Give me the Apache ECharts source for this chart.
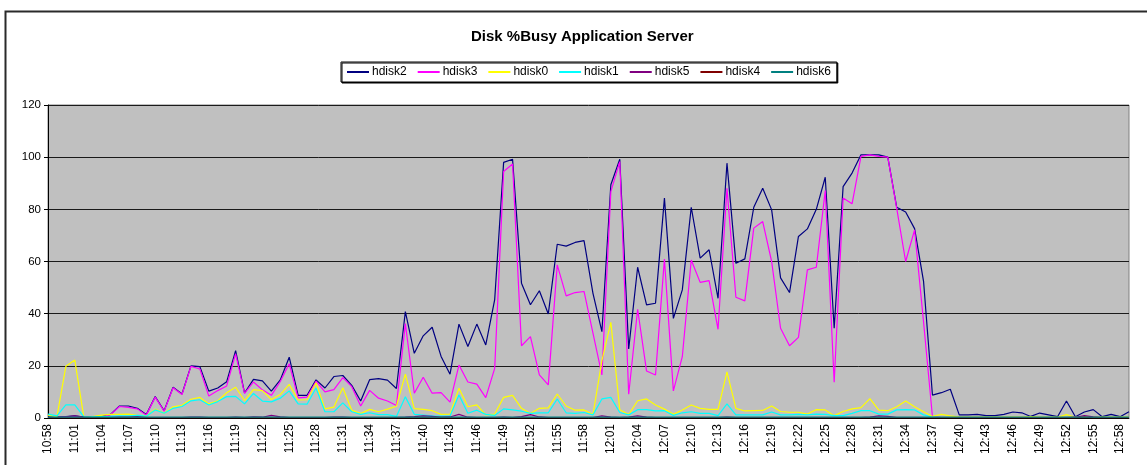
<!DOCTYPE html>
<html>
<head>
<meta charset="utf-8">
<script src="https://cdn.jsdelivr.net/npm/echarts@6/dist/echarts.min.js"></script>
<style>
  html, body { margin: 0; padding: 0; background: #fff; }
  #chart { width: 1147px; height: 465px; }
</style>
</head>
<body>
<div id="chart"></div>
<script>
// Disk %Busy, one sample per minute, 10:58 .. 12:59
const times = [
  '10:58','10:59','11:00','11:01','11:02','11:03','11:04','11:05','11:06','11:07',
  '11:08','11:09','11:10','11:11','11:12','11:13','11:14','11:15','11:16','11:17',
  '11:18','11:19','11:20','11:21','11:22','11:23','11:24','11:25','11:26','11:27',
  '11:28','11:29','11:30','11:31','11:32','11:33','11:34','11:35','11:36','11:37',
  '11:38','11:39','11:40','11:41','11:42','11:43','11:44','11:45','11:46','11:47',
  '11:48','11:49','11:50','11:51','11:52','11:53','11:54','11:55','11:56','11:57',
  '11:58','11:59','12:00','12:01','12:02','12:03','12:04','12:05','12:06','12:07',
  '12:08','12:09','12:10','12:11','12:12','12:13','12:14','12:15','12:16','12:17',
  '12:18','12:19','12:20','12:21','12:22','12:23','12:24','12:25','12:26','12:27',
  '12:28','12:29','12:30','12:31','12:32','12:33','12:34','12:35','12:36','12:37',
  '12:38','12:39','12:40','12:41','12:42','12:43','12:44','12:45','12:46','12:47',
  '12:48','12:49','12:50','12:51','12:52','12:53','12:54','12:55','12:56','12:57',
  '12:58','12:59'
]

const hdisk2 = [
  0.3, 0.3, 0.5, 0.8, 0.3, 0.3, 0.5, 1.4, 4.6, 4.6,
  3.7, 1.3, 8.2, 2.8, 11.8, 9.2, 20, 19.7, 10.3, 11.5,
  13.9, 25.8, 9.6, 14.8, 14.2, 10.3, 14.6, 23.3, 8.7, 8.7,
  14.6, 11.5, 15.9, 16.3, 12.5, 6.5, 14.7, 15.1, 14.5, 11.3,
  40.8, 24.8, 31.5, 34.8, 23.6, 16.8, 36, 27.4, 36, 28,
  45.4, 98, 99.2, 51.7, 43.4, 48.8, 39.9, 66.6, 65.9, 67.3,
  68, 47.8, 33.1, 89.4, 99.2, 26.5, 57.8, 43.4, 44, 84.3,
  38.2, 49.1, 80.8, 61.3, 64.5, 45.9, 97.7, 59.3, 61, 80.8,
  88.1, 79.8, 53.7, 48.1, 69.6, 72.5, 80, 92.3, 34.4, 88.7,
  93.9, 100.9, 100.9, 100.9, 100, 80.8, 79, 72.6, 52.5, 8.8,
  9.7, 11, 1.2, 1.2, 1.4, 0.9, 0.9, 1.4, 2.3, 2,
  0.6, 1.9, 1.2, 0.5, 6.5, 0.5, 2.3, 3.2, 0.5, 1.4,
  0.5, 2.4
]
const hdisk3 = [
  0.2, 0.2, 0.3, 0.5, 0.2, 0.2, 0.4, 1.3, 4.4, 4.1,
  3.5, 1.1, 8, 2.6, 11.6, 9, 19.8, 18.8, 8.4, 10.5,
  12.3, 24.6, 9.4, 13.8, 10.8, 8.7, 14, 20.8, 7.7, 8,
  14.1, 10, 10.9, 15.5, 12, 4.6, 10.6, 7.6, 6.5, 4.8,
  36.2, 9.5, 15.6, 9.5, 9.7, 6.1, 20.3, 13.8, 13, 7.8,
  19, 94.5, 97.4, 27.7, 31.2, 16.5, 12.7, 58.7, 46.8, 48.1,
  48.5, 32.5, 16.5, 86.8, 98.3, 9.1, 41.7, 18, 16.5, 60.9,
  10.4, 23.5, 60.6, 52, 52.7, 34, 88.1, 46.3, 44.9, 72.8,
  75.3, 60, 34.4, 27.7, 30.9, 56.8, 57.8, 87.2, 13.7, 84.3,
  82.1, 100.3, 100.9, 100.3, 100, 80.4, 60, 72.1, 37, 0.5,
  0.2, 0.2, 0.2, 0.2, 0.2, 0.2, 0.2, 0.2, 0.2, 0.2,
  0.2, 0.2, 0.2, 0.2, 0.2, 0.2, 0.2, 0.2, 0.2, 0.2,
  0.2, 0.2
]
const hdisk0 = [
  1.1, 0.5, 19.8, 22.2, 0.5, 0.5, 1.1, 1.4, 1.4, 1.5,
  1, 0.8, 3.4, 1.8, 4.3, 4.9, 7.2, 7.9, 5.4, 6.6,
  9.7, 11.8, 6.7, 10.9, 10.5, 7.1, 9, 12.9, 6.9, 7,
  13.5, 3.5, 4.2, 11.6, 3, 1.7, 3.3, 2.4, 3.4, 4.5,
  16.8, 3.6, 3.3, 2.8, 1.4, 1.5, 11.4, 4.3, 5, 1.2,
  1.5, 7.9, 8.7, 3.7, 1.7, 3.7, 3.9, 9.2, 4.6, 3,
  3.1, 1.3, 22, 36.7, 3.2, 1.3, 6.6, 7.3, 5, 3.4,
  1.4, 3.1, 5, 3.7, 3.3, 3.3, 17.7, 3.7, 2.7, 2.8,
  2.9, 4.6, 2.5, 2.2, 2.2, 1.5, 3.2, 3.1, 0.9, 2.5,
  3.5, 4, 7.4, 3, 2.8, 4.3, 6.5, 4.3, 2.4, 0.6,
  1.4, 0.8, 0.3, 0.3, 0.3, 0.3, 0.3, 0.3, 0.3, 0.3,
  0.5, 0.3, 0.3, 0.3, 1.3, 0.3, 0.3, 0.3, 0.3, 0.3,
  0.3, 0.3
]
const hdisk1 = [
  1.5, 0.8, 5, 5, 0.5, 0.4, 0.5, 0.6, 0.8, 0.8,
  1, 0.7, 3.1, 1.8, 3.7, 4.4, 6.6, 7, 5, 6.3,
  8.2, 8.3, 5.4, 9.4, 6.5, 6.2, 7.6, 10.4, 5.4, 5.3,
  11.5, 2.4, 2.4, 5.8, 2.4, 1.4, 2, 1.3, 1.3, 0.6,
  8.1, 1.4, 1.1, 0.8, 0.7, 0.8, 8.8, 1.8, 3, 1.4,
  1, 3.5, 3.1, 2.6, 1.8, 2, 2, 7.3, 2, 1.8,
  2.1, 1.2, 7.3, 7.9, 2.1, 1.2, 3.2, 3.2, 2.7, 2.8,
  1, 2, 2.4, 1.8, 1.8, 0.9, 5.4, 1.2, 1.2, 1.2,
  1.2, 2.3, 1.2, 1.2, 1.4, 1.2, 1.5, 1.4, 0.9, 0.9,
  1.8, 2.8, 2.8, 1.5, 1.5, 3.1, 3.2, 3.1, 1.2, 0.3,
  0.2, 0.2, 0.2, 0.2, 0.2, 0.2, 0.2, 0.2, 0.2, 0.2,
  0.2, 0.2, 0.2, 0.2, 0.2, 0.2, 0.2, 0.2, 0.2, 0.2,
  0.2, 0.2
]
const hdisk5 = [
  0.2, 0.2, 0.4, 0.8, 0.3, 0.2, 0.2, 0.2, 0.3, 0.3,
  0.5, 0.2, 0.2, 0.2, 0.2, 0.2, 0.3, 0.3, 0.2, 0.2,
  0.2, 0.3, 0.2, 0.4, 0.3, 1, 0.4, 0.2, 0.2, 0.2,
  0.2, 0.2, 0.3, 0.3, 0.2, 0.2, 0.2, 0.2, 0.2, 0.2,
  0.3, 0.5, 0.8, 0.6, 0.3, 0.4, 1.4, 0.3, 0.2, 0.2,
  0.2, 0.3, 0.2, 0.5, 1.3, 0.4, 0.2, 0.2, 0.2, 0.2,
  0.2, 0.2, 0.8, 0.3, 0.2, 0.3, 0.8, 0.3, 0.2, 0.2,
  0.2, 0.2, 0.2, 0.2, 0.2, 0.2, 0.3, 0.2, 0.2, 0.2,
  0.2, 0.2, 0.2, 0.2, 0.2, 0.2, 0.2, 0.2, 0.2, 0.2,
  0.2, 0.2, 0.3, 0.8, 0.6, 0.2, 0.2, 0.2, 0.2, 0.2,
  0.2, 0.2, 0.2, 0.2, 0.2, 0.2, 0.2, 0.2, 0.2, 0.2,
  0.2, 0.2, 0.2, 0.2, 0.2, 0.3, 0.9, 0.4, 0.2, 0.2,
  0.2, 0.2
]
const hdisk4 = [
  0.1, 0.1, 0.1, 0.1, 0.1, 0.1, 0.1, 0.1, 0.1, 0.1,
  0.1, 0.1, 0.1, 0.1, 0.1, 0.1, 0.1, 0.1, 0.1, 0.1,
  0.1, 0.1, 0.1, 0.1, 0.1, 0.2, 0.1, 0.1, 0.1, 0.1,
  0.1, 0.1, 0.1, 0.1, 0.1, 0.1, 0.1, 0.1, 0.1, 0.1,
  0.1, 0.1, 0.2, 0.1, 0.1, 0.1, 0.2, 0.1, 0.1, 0.1,
  0.1, 0.1, 0.1, 0.1, 0.2, 0.1, 0.1, 0.1, 0.1, 0.1,
  0.1, 0.1, 0.1, 0.1, 0.1, 0.1, 0.1, 0.1, 0.1, 0.1,
  0.1, 0.1, 0.1, 0.1, 0.1, 0.1, 0.1, 0.1, 0.1, 0.1,
  0.1, 0.1, 0.1, 0.1, 0.1, 0.1, 0.1, 0.1, 0.1, 0.1,
  0.1, 0.1, 0.1, 0.1, 0.1, 0.1, 0.1, 0.1, 0.1, 0.1,
  0.1, 0.1, 0.1, 0.1, 0.1, 0.1, 0.1, 0.1, 0.1, 0.1,
  0.1, 0.1, 0.1, 0.1, 0.1, 0.1, 0.3, 0.1, 0.1, 0.1,
  0.1, 0.1
]
const hdisk6 = [
  0.3, 0.3, 0.3, 0.3, 0.3, 0.3, 0.3, 0.3, 0.3, 0.3,
  0.3, 0.3, 0.3, 0.3, 0.3, 0.3, 0.3, 0.3, 0.3, 0.3,
  0.3, 0.3, 0.3, 0.3, 0.3, 0.3, 0.3, 0.3, 0.3, 0.3,
  0.3, 0.3, 0.3, 0.3, 0.3, 0.3, 0.3, 0.3, 0.3, 0.3,
  0.3, 0.3, 0.3, 0.3, 0.3, 0.3, 0.3, 0.3, 0.3, 0.3,
  0.3, 0.3, 0.3, 0.3, 0.3, 0.3, 0.3, 0.3, 0.3, 0.3,
  0.3, 0.3, 0.3, 0.3, 0.3, 0.3, 0.3, 0.3, 0.3, 0.3,
  0.3, 0.3, 0.3, 0.3, 0.3, 0.3, 0.3, 0.3, 0.3, 0.3,
  0.3, 0.3, 0.3, 0.3, 0.3, 0.3, 0.3, 0.3, 0.3, 0.3,
  0.3, 0.3, 0.3, 0.3, 0.3, 0.3, 0.3, 0.3, 0.3, 0.3,
  0.3, 0.3, 0.3, 0.3, 0.3, 0.3, 0.3, 0.3, 0.3, 0.3,
  0.3, 0.3, 0.3, 0.3, 0.3, 0.3, 0.3, 0.3, 0.3, 0.3,
  0.3, 0.3
]

const FONT = '"Liberation Sans", Arial, sans-serif'

function lineSeries(name, data, color) {
  return {
    name, type: 'line', data,
    showSymbol: false, symbol: 'none',
    lineStyle: { width: 1.2, color },
    itemStyle: { color },
    emphasis: { disabled: true },
  }
}

const chart = echarts.init(document.getElementById('chart'), null, { renderer: 'canvas' })
chart.setOption({
  animation: false,
  textStyle: { fontFamily: FONT },
  graphic: [{
    type: 'rect', left: 3, top: 9, silent: true,
    shape: { width: 1200, height: 500 },
    style: { fill: 'none', stroke: '#2a2a2a', lineWidth: 2 },
  }],
  title: {
    text: 'Disk %Busy Application Server',
    left: 466, top: 24,
    textStyle: { fontFamily: FONT, fontSize: 15, fontWeight: 'bold', color: '#000' },
  },
  legend: {
    top: 62, left: 341,
    itemWidth: 22, itemHeight: 2, itemGap: 11,
    icon: 'rect',
    padding: [4, 6],
    borderColor: '#000', borderWidth: 1,
    backgroundColor: '#fff',
    shadowColor: '#000', shadowOffsetX: 1, shadowOffsetY: 1, shadowBlur: 0,
    textStyle: { fontFamily: FONT, fontSize: 12, color: '#000', padding: [0, 0, 0, -2] },
  },
  grid: {
    left: 48, right: 18, top: 105, bottom: 47,
    show: true, backgroundColor: '#c0c0c0', borderColor: '#808080', borderWidth: 1,
    containLabel: false,
  },
  xAxis: {
    type: 'category', data: times, boundaryGap: false,
    axisLine: { lineStyle: { color: '#000', width: 1 } },
    axisTick: { show: false },
    axisLabel: { interval: 2, rotate: 90, fontSize: 12, color: '#000', margin: 6, fontFamily: FONT },
    splitLine: { show: false },
  },
  yAxis: {
    type: 'value', min: 0, max: 120, interval: 20,
    axisLine: { show: true, lineStyle: { color: '#000', width: 1 } },
    axisTick: { show: true, length: 4, lineStyle: { color: '#000' } },
    axisLabel: { fontSize: 11.5, color: '#000', margin: 7, fontFamily: FONT },
    splitLine: { lineStyle: { color: '#1a1a1a', width: 1 } },
  },
  series: [
    lineSeries('hdisk2', hdisk2, '#000080'),
    lineSeries('hdisk3', hdisk3, '#ff00ff'),
    lineSeries('hdisk0', hdisk0, '#ffff00'),
    lineSeries('hdisk1', hdisk1, '#00ffff'),
    lineSeries('hdisk5', hdisk5, '#800080'),
    lineSeries('hdisk4', hdisk4, '#800000'),
    lineSeries('hdisk6', hdisk6, '#008080'),
  ],
})
</script>
</body>
</html>
